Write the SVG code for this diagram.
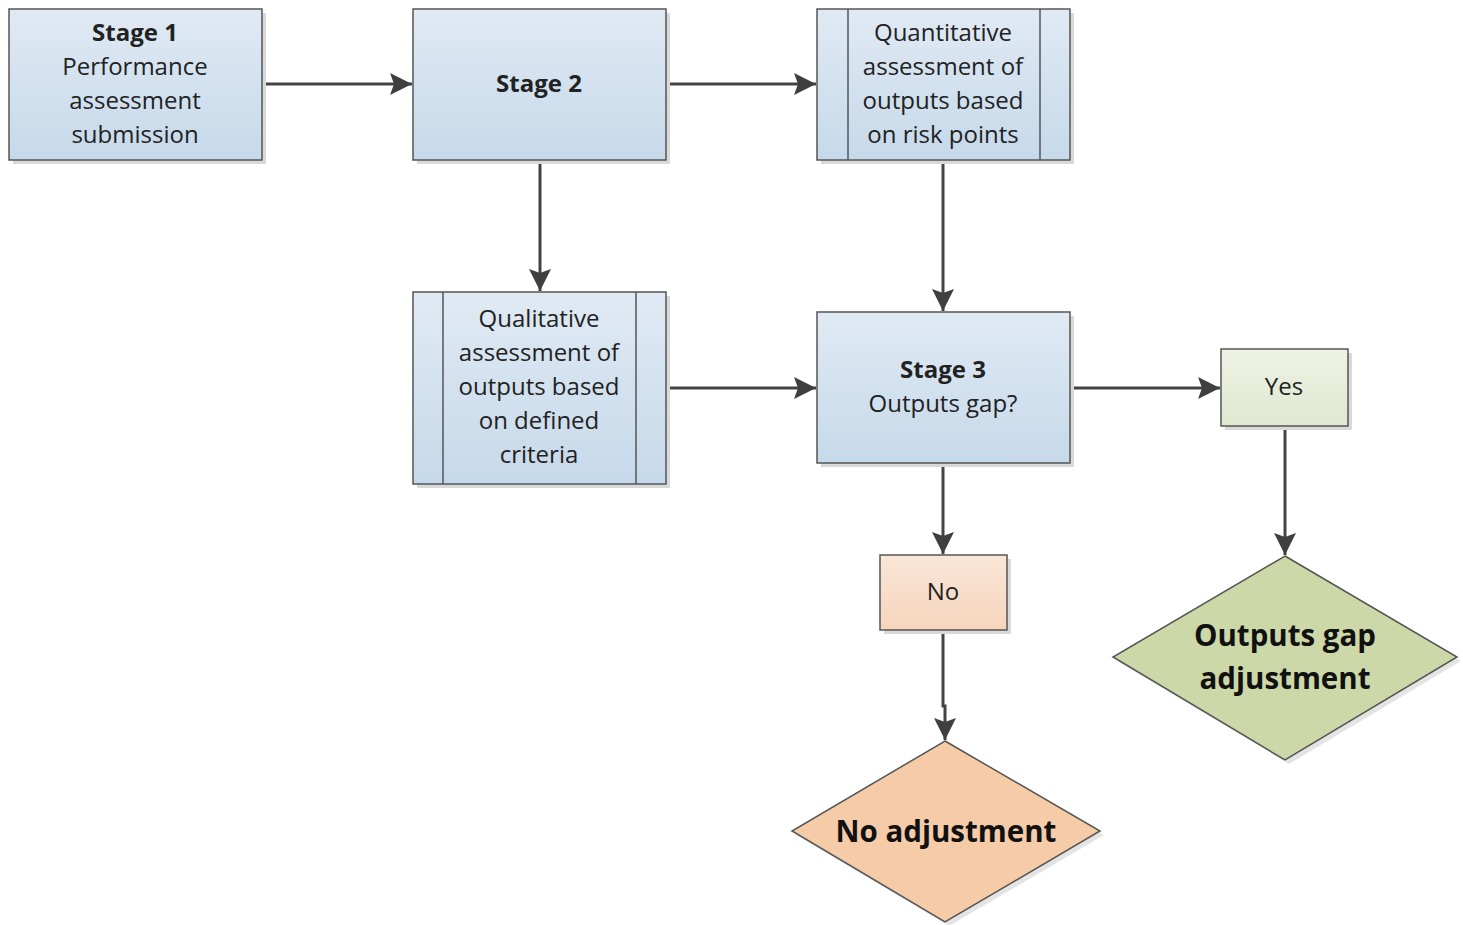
<svg xmlns="http://www.w3.org/2000/svg" width="1463" height="925" viewBox="0 0 1463 925">
<defs>
<linearGradient id="gBlue" x1="0" y1="0" x2="0" y2="1"><stop offset="0" stop-color="#e0eaf4"/><stop offset="1" stop-color="#c6d9ea"/></linearGradient>
<linearGradient id="gGreen" x1="0" y1="0" x2="0" y2="1"><stop offset="0" stop-color="#eef2e4"/><stop offset="1" stop-color="#dfe8cf"/></linearGradient>
<linearGradient id="gOrange" x1="0" y1="0" x2="0" y2="1"><stop offset="0" stop-color="#fae6d8"/><stop offset="1" stop-color="#f6d5bd"/></linearGradient>
<marker id="arr" markerWidth="22" markerHeight="22" viewBox="0 0 22 22" refX="22" refY="11" orient="auto" markerUnits="userSpaceOnUse"><path d="M0,0 L22,11 L0,22 L4,11 Z" fill="#3f3f3f"/></marker>
</defs>
<style>
.box{stroke:#555;stroke-width:1.5}
.sh{fill:#d9d9d9}
.t{font-family:"Open Sans","Liberation Sans",sans-serif;font-size:24px;fill:#222;text-anchor:middle}
.b{font-weight:bold}
.d{font-family:"Open Sans","Liberation Sans",sans-serif;font-size:29.5px;font-weight:bold;fill:#111;text-anchor:middle}
.c{stroke:#444;stroke-width:3;fill:none;marker-end:url(#arr)}
</style>
<rect width="1463" height="925" fill="#fff"/>
<g id="connectors">
<path class="c" d="M262,84 H412"/>
<path class="c" d="M666,84 H816"/>
<path class="c" d="M540,160 V291"/>
<path class="c" d="M943,160 V311"/>
<path class="c" d="M666,388 H816"/>
<path class="c" d="M1070,388 H1220"/>
<path class="c" d="M943,463 V554"/>
<path class="c" d="M1285,426 V555"/>
<path class="c" d="M943,630 V706 H945 V740"/>
</g>
<g id="stage1">
<rect class="sh" x="13" y="13" width="253" height="151"/>
<rect class="box" x="9" y="9" width="253" height="151" fill="url(#gBlue)"/>
<text class="t b" x="135" y="41">Stage 1</text>
<text class="t" x="135" y="75">Performance</text>
<text class="t" x="135" y="109">assessment</text>
<text class="t" x="135" y="143">submission</text>
</g>
<g id="stage2">
<rect class="sh" x="417" y="13" width="253" height="151"/>
<rect class="box" x="413" y="9" width="253" height="151" fill="url(#gBlue)"/>
<text class="t b" x="539" y="92">Stage 2</text>
</g>
<g id="quantitative">
<rect class="sh" x="821" y="13" width="253" height="151"/>
<rect class="box" x="817" y="9" width="253" height="151" fill="url(#gBlue)"/>
<line class="box" x1="848" y1="9" x2="848" y2="160"/>
<line class="box" x1="1040" y1="9" x2="1040" y2="160"/>
<text class="t" x="943" y="41">Quantitative</text>
<text class="t" x="943" y="75">assessment of</text>
<text class="t" x="943" y="109">outputs based</text>
<text class="t" x="943" y="143">on risk points</text>
</g>
<g id="qualitative">
<rect class="sh" x="417" y="296" width="253" height="192"/>
<rect class="box" x="413" y="292" width="253" height="192" fill="url(#gBlue)"/>
<line class="box" x1="443" y1="292" x2="443" y2="484"/>
<line class="box" x1="636" y1="292" x2="636" y2="484"/>
<text class="t" x="539" y="327">Qualitative</text>
<text class="t" x="539" y="361">assessment of</text>
<text class="t" x="539" y="395">outputs based</text>
<text class="t" x="539" y="429">on defined</text>
<text class="t" x="539" y="463">criteria</text>
</g>
<g id="stage3">
<rect class="sh" x="821" y="316" width="253" height="151"/>
<rect class="box" x="817" y="312" width="253" height="151" fill="url(#gBlue)"/>
<text class="t b" x="943" y="378">Stage 3</text>
<text class="t" x="943" y="412">Outputs gap?</text>
</g>
<g id="yes">
<rect class="sh" x="1225" y="353" width="127" height="77"/>
<rect class="box" x="1221" y="349" width="127" height="77" fill="url(#gGreen)"/>
<text class="t" x="1284" y="395">Yes</text>
</g>
<g id="no">
<rect class="sh" x="884" y="559" width="127" height="75"/>
<rect class="box" x="880" y="555" width="127" height="75" fill="url(#gOrange)"/>
<text class="t" x="943" y="600">No</text>
</g>
<g id="outputs-gap-adjustment">
<path d="M1289,560 L1461,661 L1289,764 L1117,661 Z" fill="#e4e4e4"/>
<path class="box" d="M1285,556 L1457,657 L1285,760 L1113,657 Z" fill="#cdd8a8" stroke-width="1.2"/>
<text class="d" x="1285" y="646">Outputs gap</text>
<text class="d" x="1285" y="689">adjustment</text>
</g>
<g id="no-adjustment">
<path d="M949,745 L1104,835 L949,926 L796,835 Z" fill="#e4e4e4"/>
<path class="box" d="M945,741 L1100,831 L945,922 L792,831 Z" fill="#f5cba8" stroke-width="1.2"/>
<text class="d" x="946" y="842">No adjustment</text>
</g>
</svg>
